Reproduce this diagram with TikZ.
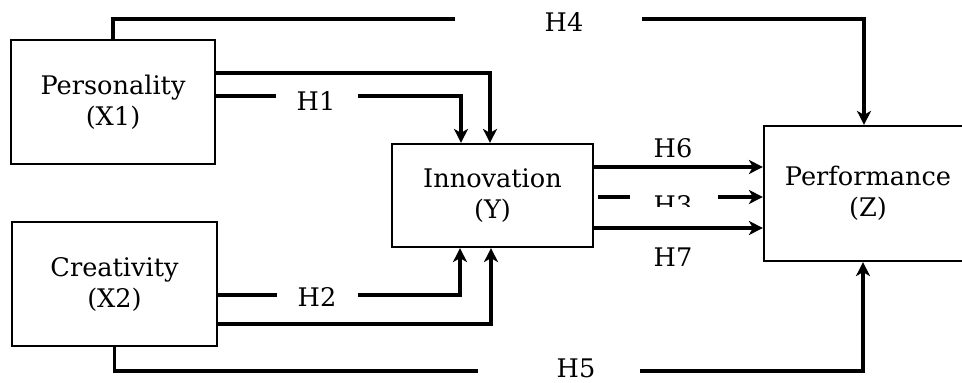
\documentclass[tikz,border=0pt]{standalone}
\usepackage{fontspec}
\setmainfont{DejaVu Serif}
\usetikzlibrary{arrows.meta}

\begin{document}
\begin{tikzpicture}[
  x=0.5pt, y=-0.5pt, font=\fontsize{12.8}{15.5}\selectfont,
  box/.style ={draw,rectangle,align=center,line width=1.1pt,inner sep=0},
  seg/.style ={draw,line width=1.6pt},
  ln/.style  ={seg,-{Stealth[length=7pt,width=7pt,inset=2pt]}},
  lab/.style ={inner sep=0},
]
\clip (0,0) rectangle (962,383);

% ------------------------------------------------------------------ variables
\node[box,minimum width=102pt,minimum height=62pt]     (pers) at (113,102)     {Personality\\(X1)};
\node[box,minimum width=102.5pt,minimum height=62pt]   (crea) at (114.5,284)   {Creativity\\(X2)};
\node[box,minimum width=100.5pt,minimum height=51.5pt] (inno) at (492.5,195.5) {Innovation\\(Y)};
\node[box,minimum width=104pt,minimum height=67.5pt]   (perf) at (868,193.5)   {Performance\\(Z)};

% ------------------------------------------------------------------ hypotheses
\node[lab] (h1) at (316,101) {H1};
\node[lab] (h2) at (317,297) {H2};
\node[lab] (h4) at (564,22)  {H4};
\node[lab] (h5) at (576,368) {H5};
\node[lab] (h6) at (673,148) {H6};
\node[lab] (h7) at (673,257) {H7};
% H3 is printed cut off at its lower half
\begin{scope}
  \clip (640,150) rectangle (710,207);
  \node[lab] (h3) at (673,205) {H3};
\end{scope}

% gap ends and bends, left to right
\coordinate (k0) at (490,73);
\coordinate (g1a) at (276,96);  \coordinate (g1b) at (358,96);  \coordinate (k1) at (461,96);
\coordinate (g2a) at (277,295); \coordinate (g2b) at (358,295); \coordinate (k2) at (460,295);
\coordinate (k3) at (491,324);
\coordinate (g4a) at (455,19);  \coordinate (g4b) at (642,19);  \coordinate (k4) at (864,19);
\coordinate (g5a) at (478,371); \coordinate (g5b) at (640,371); \coordinate (k5) at (863,371);
\coordinate (r6) at (593,167);
\coordinate (g3a) at (598,197); \coordinate (g3b) at (630,197); \coordinate (g3c) at (718,197);
\coordinate (r7) at (593,228);

% ------------------------------------------------------------------ into innovation
\draw[ln]  (pers.east |- k0) -- (k0) -- (k0 |- inno.north);
\draw[seg] (pers.east |- g1a) -- (g1a);
\draw[ln]  (g1b) -- (k1) -- (k1 |- inno.north);
\draw[seg] (crea.east |- g2a) -- (g2a);
\draw[ln]  (g2b) -- (k2) -- (k2 |- inno.south);
\draw[ln]  (crea.east |- k3) -- (k3) -- (k3 |- inno.south);

% ------------------------------------------------------------------ into performance
\draw[seg] (pers.north) |- (g4a);
\draw[ln]  (g4b) -- (k4) -- (k4 |- perf.north);
\draw[seg] (crea.south) |- (g5a);
\draw[ln]  (g5b) -- (k5) -- (k5 |- perf.south);
\draw[ln]  (inno.east |- r6) -- (perf.west |- r6);
\draw[seg] (g3a) -- (g3b);
\draw[ln]  (g3c) -- (perf.west |- g3c);
\draw[ln]  (inno.east |- r7) -- (perf.west |- r7);

\end{tikzpicture}
\end{document}
